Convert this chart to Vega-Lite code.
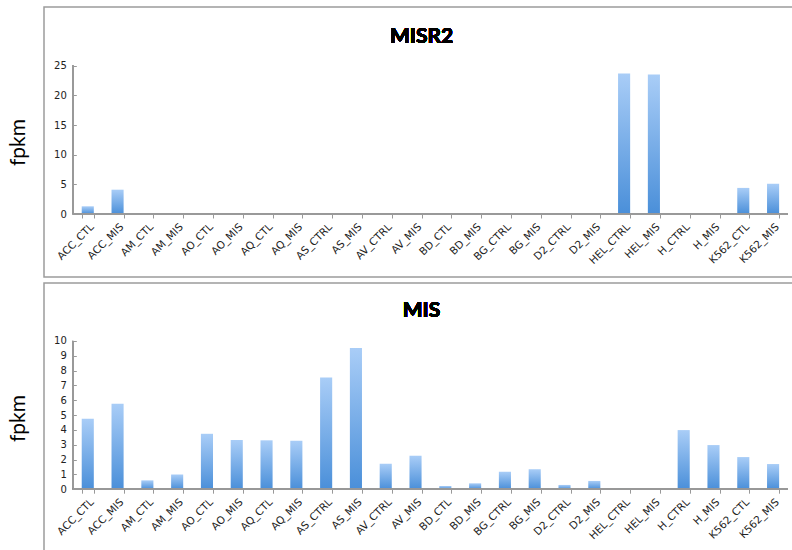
{
  "$schema": "https://vega.github.io/schema/vega-lite/v6.json",
  "padding": {"left": 6, "top": 6, "right": 0, "bottom": 0},
  "background": "white",
  "spacing": 4,
  "datasets": {
    "misr2": [
      {"sample": "ACC_CTL", "fpkm": 1.3},
      {"sample": "ACC_MIS", "fpkm": 4.1},
      {"sample": "AM_CTL", "fpkm": 0},
      {"sample": "AM_MIS", "fpkm": 0.1},
      {"sample": "AO_CTL", "fpkm": 0},
      {"sample": "AO_MIS", "fpkm": 0.1},
      {"sample": "AQ_CTL", "fpkm": 0},
      {"sample": "AQ_MIS", "fpkm": 0.1},
      {"sample": "AS_CTRL", "fpkm": 0},
      {"sample": "AS_MIS", "fpkm": 0.1},
      {"sample": "AV_CTRL", "fpkm": 0},
      {"sample": "AV_MIS", "fpkm": 0},
      {"sample": "BD_CTL", "fpkm": 0},
      {"sample": "BD_MIS", "fpkm": 0},
      {"sample": "BG_CTRL", "fpkm": 0.1},
      {"sample": "BG_MIS", "fpkm": 0.1},
      {"sample": "D2_CTRL", "fpkm": 0},
      {"sample": "D2_MIS", "fpkm": 0},
      {"sample": "HEL_CTRL", "fpkm": 23.7},
      {"sample": "HEL_MIS", "fpkm": 23.5},
      {"sample": "H_CTRL", "fpkm": 0},
      {"sample": "H_MIS", "fpkm": 0},
      {"sample": "K562_CTL", "fpkm": 4.4},
      {"sample": "K562_MIS", "fpkm": 5.1}
    ],
    "mis": [
      {"sample": "ACC_CTL", "fpkm": 4.76},
      {"sample": "ACC_MIS", "fpkm": 5.77},
      {"sample": "AM_CTL", "fpkm": 0.6},
      {"sample": "AM_MIS", "fpkm": 1.0},
      {"sample": "AO_CTL", "fpkm": 3.74},
      {"sample": "AO_MIS", "fpkm": 3.32},
      {"sample": "AQ_CTL", "fpkm": 3.3},
      {"sample": "AQ_MIS", "fpkm": 3.27},
      {"sample": "AS_CTRL", "fpkm": 7.54},
      {"sample": "AS_MIS", "fpkm": 9.53},
      {"sample": "AV_CTRL", "fpkm": 1.72},
      {"sample": "AV_MIS", "fpkm": 2.26},
      {"sample": "BD_CTL", "fpkm": 0.22},
      {"sample": "BD_MIS", "fpkm": 0.4},
      {"sample": "BG_CTRL", "fpkm": 1.18},
      {"sample": "BG_MIS", "fpkm": 1.35},
      {"sample": "D2_CTRL", "fpkm": 0.29},
      {"sample": "D2_MIS", "fpkm": 0.56},
      {"sample": "HEL_CTRL", "fpkm": 0.08},
      {"sample": "HEL_MIS", "fpkm": 0.05},
      {"sample": "H_CTRL", "fpkm": 3.99},
      {"sample": "H_MIS", "fpkm": 2.98},
      {"sample": "K562_CTL", "fpkm": 2.17},
      {"sample": "K562_MIS", "fpkm": 1.7}
    ]
  },
  "resolve": {"scale": {"x": "independent", "y": "independent"}},
  "vconcat": [
    {
      "width": 757,
      "height": 270,
      "data": {"name": "misr2"},
      "layer": [
        {
          "mark": {"type": "bar", "color": {"gradient": "linear", "x1": 0, "y1": 0, "x2": 0, "y2": 1, "stops": [{"offset": 0, "color": "#a9cdf7"}, {"offset": 1, "color": "#4a8fd9"}]}},
          "encoding": {
            "x": {"field": "sample", "type": "nominal", "sort": null,
              "scale": {"paddingInner": 0.5942, "paddingOuter": 1.0974, "align": 0.633, "round": false},
              "axis": {"title": null, "offset": -63, "domain": false, "tickBand": "extent", "tickSize": 4, "tickColor": "#999999", "labelAngle": -45, "labelAlign": "right", "labelBaseline": "middle", "labelPadding": 7, "labelOffset": 4, "labelFont": "DejaVu Sans", "labelFontSize": 10.5, "labelColor": "#222222", "labelOverlap": false}},
            "y": {"field": "fpkm", "type": "quantitative",
              "scale": {"domain": [-10.62, 34.9], "nice": false, "zero": false},
              "axis": {"title": "fpkm", "offset": -32.3, "domain": false, "grid": false, "values": [0, 5, 10, 15, 20, 25], "tickCount": 12, "labelOverlap": false, "tickSize": 4, "tickColor": "#999999", "labelPadding": 6, "labelFont": "DejaVu Sans", "labelFontSize": 10, "labelColor": "#222222", "titleFont": "Lato", "titleFontSize": 21, "titleFontWeight": "normal", "titleColor": "#000000", "titlePadding": 25}},
            "y2": {"datum": 0}
          }
        },
        {
          "mark": {"type": "rule", "color": "#999999", "strokeWidth": 1},
          "encoding": {
            "x": {"datum": "ACC_CTL", "type": "nominal", "bandPosition": -0.7325},
            "y": {"datum": 0, "type": "quantitative"},
            "y2": {"datum": 25}
          }
        },
        {
          "mark": {"type": "rule", "color": "#999999", "strokeWidth": 1},
          "encoding": {
            "x": {"datum": "ACC_CTL", "type": "nominal", "bandPosition": -0.7325},
            "x2": {"datum": "K562_MIS", "bandPosition": 1.7325},
            "y": {"datum": 0, "type": "quantitative"}
          }
        },
        {
          "mark": {"type": "text", "font": "Lato", "fontSize": 21, "fontWeight": "bold", "color": "#000000", "align": "center", "baseline": "alphabetic"},
          "encoding": {
            "x": {"datum": "AV_MIS", "type": "nominal", "bandPosition": 1},
            "y": {"datum": 28.9, "type": "quantitative"},
            "text": {"value": "MISR2"}
          }
        }
      ]
    },
    {
      "width": 757,
      "height": 270,
      "data": {"name": "mis"},
      "layer": [
        {
          "mark": {"type": "bar", "color": {"gradient": "linear", "x1": 0, "y1": 0, "x2": 0, "y2": 1, "stops": [{"offset": 0, "color": "#a9cdf7"}, {"offset": 1, "color": "#4a8fd9"}]}},
          "encoding": {
            "x": {"field": "sample", "type": "nominal", "sort": null,
              "scale": {"paddingInner": 0.5942, "paddingOuter": 1.0974, "align": 0.633, "round": false},
              "axis": {"title": null, "offset": -63.8, "domain": false, "tickBand": "extent", "tickSize": 4, "tickColor": "#999999", "labelAngle": -45, "labelAlign": "right", "labelBaseline": "middle", "labelPadding": 7, "labelOffset": 4, "labelFont": "DejaVu Sans", "labelFontSize": 10.5, "labelColor": "#222222", "labelOverlap": false}},
            "y": {"field": "fpkm", "type": "quantitative",
              "scale": {"domain": [-4.3, 13.91], "nice": false, "zero": false},
              "axis": {"title": "fpkm", "offset": -32.3, "domain": false, "grid": false, "values": [0, 1, 2, 3, 4, 5, 6, 7, 8, 9, 10], "tickCount": 12, "labelOverlap": false, "tickSize": 4, "tickColor": "#999999", "labelPadding": 6, "labelFont": "DejaVu Sans", "labelFontSize": 10, "labelColor": "#222222", "titleFont": "Lato", "titleFontSize": 21, "titleFontWeight": "normal", "titleColor": "#000000", "titlePadding": 25}},
            "y2": {"datum": 0}
          }
        },
        {
          "mark": {"type": "rule", "color": "#999999", "strokeWidth": 1},
          "encoding": {
            "x": {"datum": "ACC_CTL", "type": "nominal", "bandPosition": -0.7325},
            "y": {"datum": 0, "type": "quantitative"},
            "y2": {"datum": 10}
          }
        },
        {
          "mark": {"type": "rule", "color": "#999999", "strokeWidth": 1},
          "encoding": {
            "x": {"datum": "ACC_CTL", "type": "nominal", "bandPosition": -0.7325},
            "x2": {"datum": "K562_MIS", "bandPosition": 1.7325},
            "y": {"datum": 0, "type": "quantitative"}
          }
        },
        {
          "mark": {"type": "text", "font": "Lato", "fontSize": 21, "fontWeight": "bold", "color": "#000000", "align": "center", "baseline": "alphabetic"},
          "encoding": {
            "x": {"datum": "AV_MIS", "type": "nominal", "bandPosition": 1},
            "y": {"datum": 11.62, "type": "quantitative"},
            "text": {"value": "MIS"}
          }
        }
      ]
    }
  ],
  "config": {
    "view": {"stroke": "#9c9c9c", "strokeWidth": 1.5},
    "axis": {"labelFlush": false, "labelOverlap": false}
  }
}
